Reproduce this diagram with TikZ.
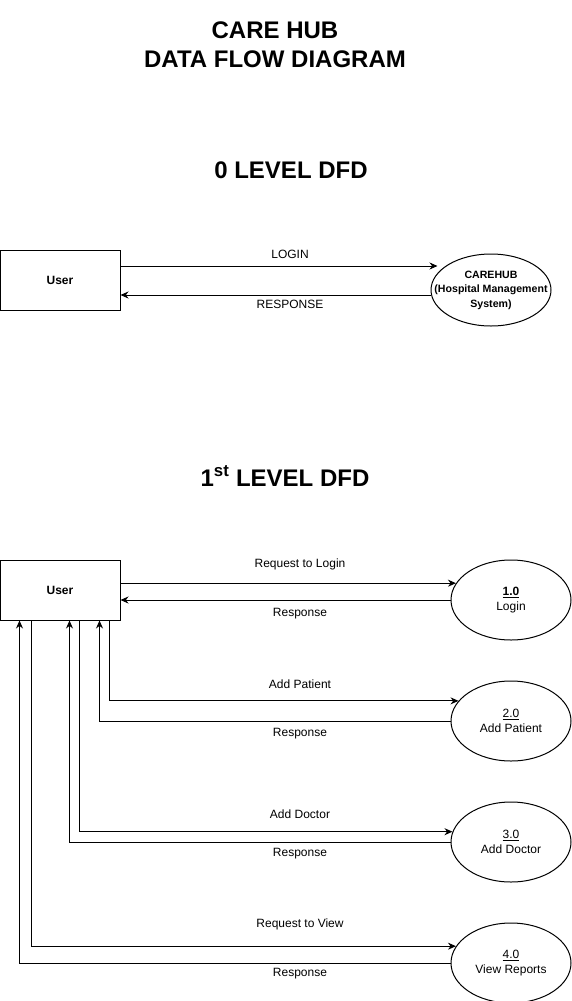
\documentclass[tikz,border=0pt]{standalone}
\usepackage{fontspec}
\setmainfont{Liberation Sans}
\usepackage{tikz}
\usetikzlibrary{shapes.geometric, arrows.meta, positioning}

\begin{document}
\begin{tikzpicture}[x=1pt, y=-1pt, node distance=40pt]

    % Define style for boxes
    \tikzstyle{entity} = [rectangle, minimum width=120pt, minimum height=60pt, inner sep=0pt, text centered, draw=black, line width=1pt, font=\fontsize{12}{14}\selectfont\bfseries]
    \tikzstyle{process} = [ellipse, minimum width=120pt, minimum height=80pt, inner sep=0pt, align=center, draw=black, line width=1pt, font=\fontsize{12}{14.5}\selectfont]
    \tikzstyle{heading} = [font=\fontsize{24}{29}\selectfont\bfseries, align=center]
    \tikzstyle{flowlabel} = [font=\fontsize{12}{14}\selectfont, inner sep=0pt]
    \tikzstyle{flow} = [-{Stealth[length=8pt,width=7pt]}, line width=1pt]

    \useasboundingbox (0,0) rectangle (571,1001);

    % Nodes
    \node (title) [heading] at (275,45) {CARE HUB\\DATA FLOW DIAGRAM};
    \node (levelzero) [heading] at (291,170) {0 LEVEL DFD};

    \node (user0) [entity] at (60,280) {User};
    \node (carehub) [process, inner xsep=-16pt, minimum height=72pt, font=\fontsize{10.6}{14.5}\selectfont\bfseries] at (491,290) {CAREHUB\\(Hospital Management\\System)};

    \node (levelone) [heading] at (285,476) {1\textsuperscript{st} LEVEL DFD};

    \node (user1) [entity] at (60,590) {User};
    \node (login) [process] at (511,600) {\underline{\textbf{1.0}}\\Login};
    \node (patient) [process, below=of login] {\underline{2.0}\\Add Patient};
    \node (doctor) [process, below=of patient] {\underline{3.0}\\Add Doctor};
    \node (reports) [process, below=of doctor] {\underline{4.0}\\View Reports};

    % Labels
    \node (lbllogin) [flowlabel] at (290,254) {LOGIN};
    \node (lblresponse) [flowlabel] at (290,304) {RESPONSE};
    \node (lblreqlogin) [flowlabel] at (300,564) {Request to Login};
    \node (lblresplogin) [flowlabel] at (300,614) {Response};
    \node (lbladdpatient) [flowlabel] at (300,684) {Add Patient};
    \node (lbleresppatient) [flowlabel] at (300,734) {Response};
    \node (lbladddoctor) [flowlabel] at (300,814) {Add Doctor};
    \node (lblrespdoctor) [flowlabel] at (300,854) {Response};
    \node (lblreqview) [flowlabel] at (300,924) {Request to View};
    \node (lblrespview) [flowlabel] at (300,974) {Response};

    % Lines
    \coordinate (logintip) at ([xshift=7pt,yshift=24pt]carehub.west);
    \coordinate (responsestart) at ([yshift=-5pt]carehub.west);
    \draw[flow] (user0.east |- logintip) -- (logintip);
    \draw[flow] (responsestart) -- (user0.east |- responsestart);

    \draw[flow] (user1.east |- login.163) -- (login.163);
    \draw[flow] (login.west) -- (user1.east |- login.west);

    \draw[flow] ([xshift=110pt]user1.south west) |- (patient.159);
    \draw[flow] (patient.west) -| ([xshift=100pt]user1.south west);

    \draw[flow] ([xshift=80pt]user1.south west) |- (doctor.170);
    \draw[flow] (doctor.west) -| ([xshift=70pt]user1.south west);

    \draw[flow] ([xshift=32pt]user1.south west) |- (reports.163);
    \draw[flow] (reports.west) -| ([xshift=20pt]user1.south west);

\end{tikzpicture}
\end{document}
